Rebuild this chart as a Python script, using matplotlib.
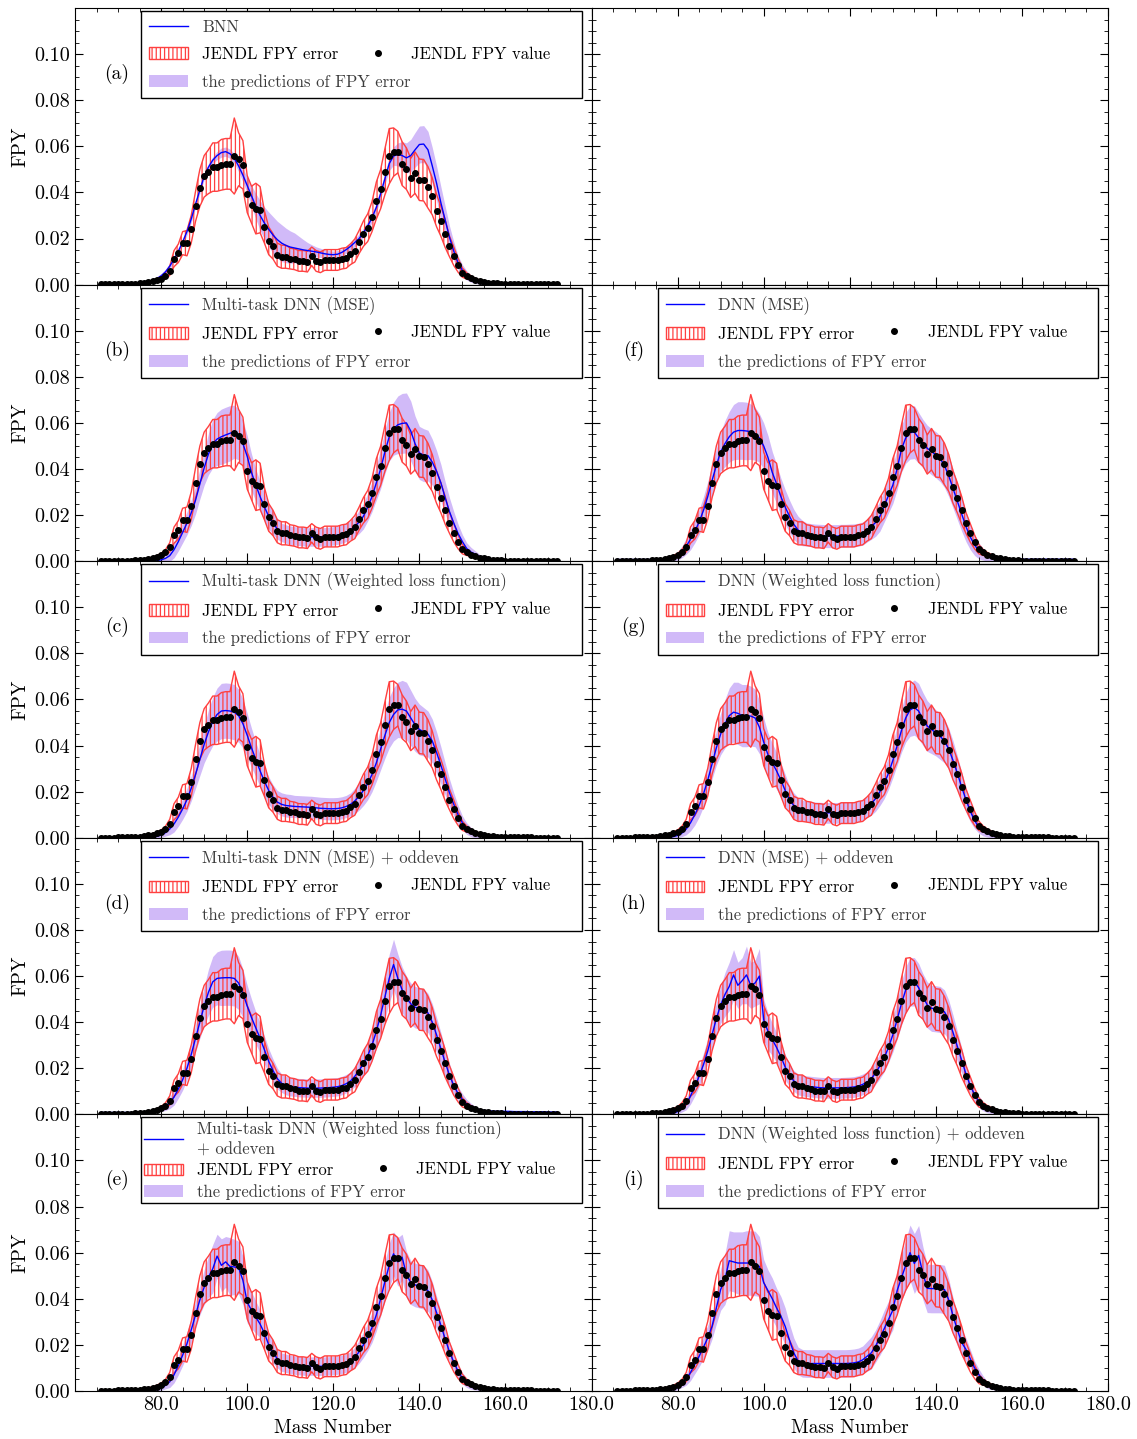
import numpy as np
import matplotlib.pyplot as plt
from matplotlib.lines import Line2D
from matplotlib.patches import Patch
from matplotlib.ticker import MultipleLocator, FormatStrFormatter

plt.rcParams['font.family'] = 'serif'
plt.rcParams['font.serif'] = ['cmr10']
plt.rcParams['mathtext.fontset'] = 'cm'
plt.rcParams['axes.formatter.use_mathtext'] = True
plt.rcParams['hatch.color'] = '#ff4040'
plt.rcParams['hatch.linewidth'] = 0.9

# mass numbers 66..172 (rows of the lists below: 66-69, 70-79, ..., 160-169, 170-172)
A = np.arange(66, 173)

# JENDL FPY value and error, in units of 1e-3
fpy = [0.1, 0.1, 0.1, 0.1,
       0.2, 0.2, 0.2, 0.3, 0.4, 0.5, 0.7, 1.0, 1.4, 1.9,
       2.6, 3.8, 6.0, 11.3, 13.6, 18.0, 18.0, 24.1, 34.0, 42.0,
       47.0, 49.0, 51.0, 51.0, 52.0, 52.4, 52.4, 55.8, 54.4, 52.0,
       39.3, 34.7, 33.0, 32.5, 25.0, 19.0, 16.6, 13.0, 12.1, 12.1,
       11.3, 11.0, 10.3, 10.3, 10.0, 12.3, 10.3, 9.7, 10.7, 10.7,
       10.7, 10.7, 11.3, 11.6, 13.2, 14.8, 18.5, 22.1, 24.7, 29.5,
       36.5, 41.4, 49.0, 55.7, 57.5, 57.5, 52.5, 50.3, 46.3, 48.6,
       45.5, 45.3, 42.2, 38.3, 32.1, 27.5, 22.1, 16.6, 12.3, 8.4,
       5.2, 3.8, 2.9, 2.2, 1.6, 1.2, 0.9, 0.7, 0.5, 0.4,
       0.3, 0.2, 0.2, 0.2, 0.2, 0.2, 0.2, 0.1, 0.1, 0.1,
       0.1, 0.1, 0.1]
fpy_err = [0.1, 0.1, 0.1, 0.1,
           0.1, 0.1, 0.1, 0.1, 0.1, 0.1, 0.2, 0.3, 0.4, 0.6,
           0.8, 1.2, 2.0, 3.5, 4.0, 5.0, 5.5, 6.0, 6.5, 8.0,
           9.0, 9.5, 10.5, 10.5, 11.0, 11.0, 11.0, 16.5, 11.5, 10.5,
           8.0, 8.0, 11.0, 10.0, 7.0, 6.0, 5.5, 5.0, 5.0, 5.0,
           4.5, 4.5, 4.5, 4.5, 4.5, 4.0, 4.5, 4.5, 4.5, 4.5,
           4.5, 4.5, 4.5, 4.5, 4.5, 5.0, 5.0, 5.5, 6.0, 6.5,
           8.0, 8.5, 10.0, 12.0, 10.5, 9.0, 9.5, 9.0, 8.5, 9.0,
           9.0, 9.0, 9.0, 8.0, 7.0, 6.5, 6.0, 4.5, 4.0, 3.0,
           2.0, 1.3, 0.9, 0.6, 0.4, 0.3, 0.2, 0.1, 0.1, 0.1,
           0.1, 0.1, 0.1, 0.1, 0.1, 0.1, 0.1, 0.1, 0.1, 0.1,
           0.1, 0.1, 0.1]

# model predictions (blue line) and predicted error half-width (purple band), 1e-3
pred_a = [0, 0, 0, 0,
          0, 0, 0, 0.1, 0.3, 0.5, 0.8, 1.2, 1.8, 2.6,
          3.8, 5.5, 8.0, 11.0, 14.5, 18.5, 23.0, 28.5, 35.0, 41.0,
          47.0, 51.0, 54.0, 56.0, 57.3, 57.7, 56.8, 54.8, 51.5, 47.5,
          43.0, 38.5, 34.0, 30.0, 26.7, 24.0, 21.5, 19.5, 18.0, 17.0,
          16.3, 15.9, 15.5, 15.1, 14.8, 14.5, 14.2, 13.8, 13.4, 13.1,
          13.0, 13.2, 14.0, 15.2, 16.6, 18.3, 20.0, 22.5, 25.5, 29.0,
          33.5, 39.5, 46.0, 52.5, 55.8, 56.5, 56.0, 55.0, 56.0, 58.5,
          60.8, 61.0, 58.5, 51.5, 44.0, 35.5, 28.0, 20.5, 14.5, 9.5,
          6.2, 4.0, 2.5, 1.5, 0.9, 0.5, 0.3, 0.2, 0.1, 0,
          0, 0, 0, 0, 0, 0, 0, 0, 0, 0,
          0, 0, 0]
wid_a = [0, 0, 0, 0,
         0, 0, 0, 0, 0.2, 0.3, 0.4, 0.5, 0.7, 0.9,
         1.0, 1.2, 1.3, 1.4, 1.5, 1.5, 1.5, 1.5, 1.5, 1.5,
         1.5, 1.5, 1.5, 1.8, 2.0, 2.0, 2.0, 2.0, 2.5, 3.0,
         3.5, 4.5, 5.5, 6.5, 7.0, 7.5, 8.0, 8.0, 8.0, 7.5,
         7.0, 6.5, 5.5, 4.5, 3.5, 2.8, 2.2, 2.0, 1.8, 1.7,
         1.6, 1.6, 1.6, 1.6, 1.7, 1.8, 2.0, 2.0, 2.0, 2.0,
         2.0, 2.2, 2.5, 3.0, 4.0, 5.0, 6.0, 6.5, 7.0, 7.5,
         8.0, 8.0, 8.0, 8.0, 7.5, 7.0, 6.0, 5.0, 4.0, 3.0,
         2.5, 2.0, 1.5, 1.0, 0.7, 0.5, 0.3, 0.2, 0, 0,
         0, 0, 0, 0, 0, 0, 0, 0, 0, 0,
         0, 0, 0]

pred_b = [0, 0, 0, 0,
          0, 0, 0, 0, 0, 0, 0, 0.1, 0.2, 0.3,
          0.6, 1.2, 2.4, 5.0, 8.5, 12.5, 16.5, 21.0, 26.5, 33.5,
          40.5, 46.5, 51.0, 53.0, 54.0, 54.8, 55.5, 56.2, 55.0, 51.0,
          45.5, 38.5, 33.0, 28.0, 23.5, 19.5, 16.5, 14.0, 12.5, 11.8,
          11.3, 11.0, 10.8, 10.6, 10.5, 10.5, 10.5, 10.5, 10.6, 10.8,
          11.0, 11.3, 11.8, 12.5, 13.5, 15.0, 17.0, 19.5, 23.5, 28.0,
          34.0, 40.0, 47.5, 54.0, 57.5, 59.2, 59.8, 60.0, 56.5, 51.0,
          47.0, 46.0, 45.8, 43.0, 39.0, 34.0, 27.5, 21.5, 16.5, 12.0,
          8.5, 5.5, 4.0, 3.0, 2.0, 1.2, 0.7, 0.4, 0.2, 0.1,
          0, 0, 0, 0, 0, 0, 0, 0, 0, 0,
          0, 0, 0]
wid_b = [0, 0, 0, 0,
         0, 0, 0, 0, 0, 0, 0.2, 0.3, 0.5, 0.7,
         1.0, 1.5, 2.5, 3.5, 4.0, 4.5, 5.0, 5.5, 6.0, 6.5,
         7.5, 9.0, 10.5, 11.5, 12.0, 12.0, 12.0, 11.5, 11.0, 10.0,
         9.0, 8.0, 7.0, 6.5, 6.0, 5.5, 5.0, 4.5, 4.0, 4.0,
         4.0, 4.0, 4.0, 4.0, 4.0, 4.0, 4.0, 4.0, 4.0, 4.0,
         4.0, 4.0, 4.0, 4.0, 4.0, 4.5, 5.0, 5.5, 6.0, 6.5,
         7.5, 8.5, 9.5, 10.5, 11.5, 12.5, 13.0, 13.0, 13.0, 12.0,
         11.5, 11.5, 11.0, 10.0, 9.0, 8.0, 7.0, 6.0, 5.0, 4.0,
         3.0, 2.5, 2.0, 1.5, 1.0, 0.7, 0.5, 0.3, 0.2, 0,
         0, 0, 0, 0, 0, 0, 0, 0, 0, 0,
         0, 0, 0]

pred_c = [0, 0, 0, 0,
          0, 0, 0, 0, 0, 0, 0, 0.1, 0.3, 0.6,
          1.2, 2.2, 3.8, 6.0, 9.0, 12.5, 16.5, 21.5, 27.5, 34.0,
          40.5, 46.0, 50.5, 53.5, 55.0, 55.2, 55.0, 54.5, 53.0, 49.5,
          44.5, 39.0, 34.0, 29.0, 24.5, 20.5, 17.5, 15.5, 14.5, 14.0,
          13.8, 13.6, 13.5, 13.4, 13.3, 13.2, 13.0, 12.8, 12.7, 12.6,
          12.6, 12.7, 13.0, 13.6, 14.5, 16.0, 18.0, 20.5, 23.5, 27.5,
          32.5, 38.5, 44.5, 50.0, 53.5, 55.5, 55.8, 55.0, 52.0, 49.0,
          47.0, 46.0, 45.0, 42.0, 37.0, 31.5, 25.5, 19.5, 14.5, 10.0,
          6.5, 4.0, 2.5, 1.5, 0.9, 0.5, 0.3, 0.2, 0.1, 0,
          0, 0, 0, 0, 0, 0, 0, 0, 0, 0,
          0, 0, 0]
wid_c = [0, 0, 0, 0,
         0, 0, 0, 0, 0, 0, 0.2, 0.3, 0.5, 0.7,
         1.0, 1.5, 2.5, 3.5, 4.0, 4.5, 5.0, 5.5, 6.0, 7.0,
         8.0, 9.5, 10.5, 11.5, 12.0, 12.0, 12.0, 12.0, 11.5, 10.5,
         9.5, 8.5, 7.5, 7.0, 6.5, 6.0, 5.5, 5.0, 5.0, 5.0,
         5.0, 4.8, 4.8, 4.8, 4.8, 4.8, 4.8, 4.8, 4.8, 4.8,
         4.8, 4.8, 4.8, 4.8, 5.0, 5.5, 6.0, 6.5, 7.0, 7.5,
         8.0, 9.0, 10.0, 11.0, 11.5, 12.0, 12.5, 12.5, 12.0, 11.5,
         11.0, 10.5, 10.0, 9.5, 9.0, 8.0, 7.0, 6.0, 5.0, 4.0,
         3.0, 2.5, 2.0, 1.5, 1.0, 0.7, 0.5, 0.3, 0.2, 0,
         0, 0, 0, 0, 0, 0, 0, 0, 0, 0,
         0, 0, 0]

pred_d = [0.8, 0.8, 0.8, 0.8,
          0.8, 0.8, 0.8, 0.8, 0.8, 0.9, 1.0, 1.1, 1.3, 1.6,
          2.2, 3.2, 5.0, 7.5, 11.0, 15.0, 20.0, 26.0, 33.0, 40.0,
          47.0, 53.0, 57.5, 59.0, 59.2, 59.3, 59.3, 59.0, 57.0, 52.5,
          47.0, 42.0, 37.5, 33.0, 28.0, 23.0, 19.0, 15.5, 13.5, 12.5,
          12.0, 11.8, 11.6, 11.5, 11.4, 11.4, 11.4, 11.4, 11.5, 11.6,
          11.8, 12.0, 12.5, 13.3, 14.5, 16.5, 19.0, 22.0, 25.5, 30.0,
          36.0, 43.0, 51.0, 59.0, 65.0, 59.0, 54.0, 50.5, 48.0, 46.5,
          46.0, 45.5, 44.0, 40.0, 34.5, 28.5, 22.5, 17.0, 12.5, 9.0,
          6.5, 4.5, 3.3, 2.5, 2.0, 1.7, 1.5, 1.4, 1.3, 1.3,
          1.3, 1.3, 1.2, 1.2, 1.2, 1.2, 1.1, 1.1, 1.1, 1.1,
          1.0, 1.0, 1.0]
wid_d = [0.3, 0.3, 0.3, 0.3,
         0.3, 0.3, 0.3, 0.3, 0.3, 0.3, 0.4, 0.5, 0.6, 0.8,
         1.0, 1.5, 2.5, 3.5, 4.0, 4.5, 5.0, 5.5, 6.0, 7.0,
         8.5, 10.0, 11.0, 11.5, 12.0, 12.0, 12.0, 12.0, 11.5, 10.5,
         9.0, 8.0, 7.0, 6.5, 6.0, 5.5, 5.0, 4.5, 4.0, 4.0,
         4.0, 4.0, 4.0, 4.0, 4.0, 4.0, 4.0, 4.0, 4.0, 4.0,
         4.0, 4.0, 4.0, 4.0, 4.0, 4.5, 5.0, 5.5, 6.0, 6.5,
         7.5, 8.5, 9.5, 10.5, 11.0, 10.5, 10.0, 9.5, 9.0, 9.0,
         9.0, 9.0, 8.5, 8.0, 7.5, 7.0, 6.0, 5.0, 4.0, 3.0,
         2.5, 2.0, 1.5, 1.0, 0.7, 0.5, 0.4, 0.4, 0.4, 0.4,
         0.4, 0.4, 0.4, 0.4, 0.4, 0.4, 0.4, 0.4, 0.4, 0.4,
         0.4, 0.4, 0.4]

pred_e = [0, 0, 0, 0,
          0, 0, 0, 0, 0, 0, 0, 0.1, 0.3, 0.6,
          1.2, 2.4, 4.0, 7.0, 11.0, 15.5, 20.5, 26.5, 33.0, 39.5,
          45.0, 49.5, 53.0, 58.5, 54.5, 56.0, 54.0, 53.8, 53.5, 48.0,
          38.5, 35.0, 32.0, 29.0, 25.0, 20.0, 16.5, 14.0, 12.5, 12.0,
          11.5, 11.2, 11.0, 10.8, 10.7, 10.8, 10.7, 10.7, 10.8, 10.9,
          11.0, 11.2, 11.5, 12.0, 13.0, 14.5, 17.0, 20.0, 23.5, 27.5,
          33.0, 40.0, 47.5, 54.5, 59.5, 56.0, 58.0, 50.5, 47.0, 46.0,
          45.5, 45.0, 43.5, 39.5, 34.0, 28.5, 22.5, 17.0, 12.5, 8.5,
          5.5, 3.5, 2.2, 1.4, 0.9, 0.6, 0.4, 0.3, 0.2, 0.1,
          0, 0, 0, 0, 0, 0, 0, 0, 0, 0,
          0, 0, 0]
wid_e = [0, 0, 0, 0,
         0, 0, 0, 0, 0, 0, 0.2, 0.3, 0.5, 0.7,
         1.0, 1.5, 2.5, 3.5, 4.0, 4.5, 5.0, 5.5, 6.0, 6.5,
         7.5, 9.0, 10.5, 9.5, 11.5, 11.0, 12.5, 12.0, 11.5, 10.5,
         9.0, 8.0, 7.0, 6.0, 5.5, 5.0, 4.5, 4.0, 4.0, 4.0,
         4.0, 4.0, 4.0, 4.0, 4.0, 4.0, 4.0, 4.0, 4.0, 4.0,
         4.0, 4.0, 4.0, 4.0, 4.0, 4.5, 5.0, 5.5, 6.0, 6.5,
         7.0, 7.5, 8.5, 9.5, 9.5, 10.5, 10.0, 10.0, 9.5, 9.5,
         9.5, 9.5, 9.0, 8.0, 7.0, 6.0, 5.0, 4.5, 3.5, 3.0,
         2.5, 2.0, 1.5, 1.0, 0.7, 0.5, 0.3, 0.2, 0, 0,
         0, 0, 0, 0, 0, 0, 0, 0, 0, 0,
         0, 0, 0]

pred_f = [0.7, 0.7, 0.7, 0.7,
          0.7, 0.7, 0.7, 0.7, 0.7, 0.7, 0.7, 0.8, 1.0, 1.5,
          2.2, 4.0, 6.5, 9.5, 13.0, 17.0, 22.0, 28.0, 35.0, 41.5,
          47.5, 51.0, 54.0, 56.0, 56.7, 56.7, 56.5, 56.2, 55.3, 53.5,
          50.0, 45.0, 38.5, 33.5, 28.0, 23.5, 19.5, 16.0, 13.5, 12.2,
          11.6, 11.3, 11.1, 11.0, 10.9, 10.9, 10.9, 10.9, 11.0, 11.0,
          11.1, 11.2, 11.5, 12.0, 13.3, 15.0, 16.8, 19.5, 24.0, 28.5,
          33.0, 40.0, 48.5, 53.5, 55.8, 56.0, 53.5, 51.0, 49.0, 47.5,
          46.2, 44.5, 41.5, 37.0, 31.5, 26.0, 20.5, 15.0, 10.5, 7.0,
          4.5, 3.0, 2.0, 1.4, 1.1, 0.9, 0.8, 0.8, 0.8, 0.8,
          0.8, 0.8, 0.8, 0.8, 0.8, 0.8, 0.8, 0.8, 0.8, 0.8,
          0.8, 0.8, 0.8]
wid_f = [0.6, 0.6, 0.6, 0.6,
         0.6, 0.6, 0.6, 0.6, 0.6, 0.6, 0.6, 0.6, 0.8, 1.2,
         1.8, 2.5, 3.5, 4.5, 5.0, 5.5, 6.0, 6.5, 7.0, 7.5,
         8.5, 10.0, 11.0, 12.0, 12.5, 12.5, 12.5, 12.0, 11.5, 10.5,
         10.0, 9.5, 9.0, 8.5, 8.0, 7.5, 7.0, 6.5, 6.0, 5.5,
         5.0, 5.0, 5.0, 5.0, 5.0, 5.0, 5.0, 5.0, 5.0, 5.0,
         5.0, 5.0, 5.0, 5.0, 5.0, 5.5, 6.0, 6.5, 7.0, 7.5,
         8.0, 9.0, 10.0, 11.0, 11.5, 11.5, 11.0, 10.5, 10.0, 10.0,
         10.0, 10.0, 9.5, 9.0, 8.5, 8.0, 7.5, 6.5, 5.5, 4.5,
         3.5, 2.5, 2.0, 1.5, 1.2, 0.8, 0.7, 0.6, 0.6, 0.6,
         0.6, 0.6, 0.6, 0.6, 0.6, 0.6, 0.6, 0.6, 0.6, 0.6,
         0.6, 0.6, 0.6]

pred_g = [0, 0, 0, 0,
          0, 0, 0, 0, 0, 0, 0, 0.1, 0.3, 0.5,
          1.0, 2.0, 3.8, 6.5, 10.0, 14.0, 19.0, 25.0, 32.0, 39.0,
          45.0, 49.5, 53.0, 54.5, 54.0, 53.0, 53.0, 52.8, 52.0, 48.0,
          41.5, 36.0, 32.5, 29.0, 25.0, 20.5, 16.5, 14.0, 12.5, 11.8,
          11.5, 11.2, 11.0, 10.9, 10.8, 10.8, 10.8, 10.8, 10.9, 11.0,
          11.0, 11.2, 11.5, 12.2, 13.2, 14.8, 17.0, 20.0, 23.5, 28.0,
          33.5, 40.0, 46.5, 52.0, 55.5, 56.5, 55.0, 51.5, 48.5, 47.0,
          45.5, 44.0, 42.0, 38.5, 33.5, 28.0, 22.0, 16.5, 11.5, 7.5,
          4.5, 2.8, 1.8, 1.1, 0.7, 0.4, 0.3, 0.2, 0.1, 0,
          0, 0, 0, 0, 0, 0, 0, 0, 0, 0,
          0, 0, 0]
wid_g = [0, 0, 0, 0,
         0, 0, 0, 0, 0, 0, 0.2, 0.3, 0.5, 0.7,
         1.0, 1.5, 2.5, 3.5, 4.5, 5.0, 5.5, 6.0, 6.5, 7.5,
         9.0, 10.5, 12.0, 13.0, 13.5, 13.5, 13.5, 13.0, 12.5, 11.5,
         10.5, 9.5, 8.5, 8.0, 7.5, 7.0, 6.0, 5.5, 5.0, 4.5,
         4.5, 4.5, 4.5, 4.5, 4.5, 4.5, 4.5, 4.5, 4.5, 4.5,
         4.5, 4.5, 4.5, 4.5, 4.5, 5.0, 5.5, 6.0, 6.5, 7.0,
         7.5, 8.5, 9.5, 10.5, 11.5, 12.0, 12.0, 11.5, 11.0, 10.5,
         10.0, 10.0, 9.5, 9.0, 8.5, 7.5, 6.5, 5.5, 4.5, 3.5,
         2.5, 2.0, 1.5, 1.0, 0.7, 0.5, 0.3, 0.2, 0, 0,
         0, 0, 0, 0, 0, 0, 0, 0, 0, 0,
         0, 0, 0]

pred_h = [0, 0, 0, 0,
          0, 0, 0, 0, 0, 0, 0, 0.1, 0.2, 0.5,
          1.2, 2.5, 4.5, 8.0, 12.0, 16.5, 21.5, 27.5, 34.5, 41.5,
          47.5, 52.0, 55.5, 60.5, 56.0, 58.0, 60.5, 56.0, 57.0, 60.0,
          41.0, 36.0, 32.5, 29.0, 25.0, 20.5, 17.0, 14.5, 13.0, 12.5,
          12.2, 12.0, 11.8, 11.6, 11.5, 11.5, 11.5, 11.5, 11.5, 11.6,
          11.7, 11.9, 12.3, 13.0, 14.0, 15.5, 18.0, 21.0, 24.5, 29.0,
          34.5, 41.0, 48.0, 54.0, 57.5, 57.5, 55.0, 51.0, 47.5, 46.0,
          45.8, 45.5, 44.5, 41.0, 35.5, 29.5, 23.5, 17.5, 12.5, 8.5,
          5.5, 3.5, 2.2, 1.4, 0.9, 0.6, 0.4, 0.3, 0.2, 0.1,
          0, 0, 0, 0, 0, 0, 0, 0, 0, 0,
          0, 0, 0]
wid_h = [0, 0, 0, 0,
         0, 0, 0, 0, 0, 0, 0.2, 0.3, 0.5, 0.7,
         1.0, 1.5, 2.5, 3.5, 4.0, 4.5, 5.0, 5.5, 6.0, 7.0,
         8.0, 9.5, 10.5, 11.0, 10.0, 10.0, 12.5, 10.0, 10.0, 12.0,
         9.0, 8.0, 7.0, 6.5, 6.0, 5.5, 5.0, 4.5, 4.5, 4.5,
         4.5, 4.5, 4.5, 4.5, 4.5, 4.5, 4.5, 4.5, 4.5, 4.5,
         4.5, 4.5, 4.5, 4.5, 4.5, 5.0, 5.0, 5.5, 6.0, 6.5,
         7.5, 8.5, 9.5, 10.0, 10.5, 10.5, 10.5, 10.0, 10.0, 10.0,
         10.0, 10.0, 9.5, 8.5, 7.5, 6.5, 5.5, 4.5, 3.5, 3.0,
         2.5, 2.0, 1.5, 1.0, 0.7, 0.5, 0.3, 0.2, 0, 0,
         0, 0, 0, 0, 0, 0, 0, 0, 0, 0,
         0, 0, 0]

pred_i = [0, 0, 0, 0,
          0, 0, 0, 0, 0, 0, 0, 0.1, 0.3, 0.7,
          1.5, 3.0, 5.0, 8.0, 11.5, 15.0, 19.0, 23.0, 28.0, 36.0,
          44.0, 48.5, 56.5, 56.0, 55.5, 55.5, 55.5, 55.5, 55.3, 54.0,
          47.0, 43.5, 40.0, 36.0, 32.5, 28.0, 22.0, 16.5, 13.0, 12.0,
          11.9, 11.9, 11.9, 11.9, 11.9, 11.9, 11.9, 11.9, 11.9, 11.9,
          12.0, 12.2, 12.6, 13.5, 15.0, 16.5, 19.5, 23.0, 27.0, 31.0,
          35.0, 43.5, 49.0, 54.5, 60.0, 55.3, 58.8, 51.0, 44.5, 44.4,
          44.4, 44.4, 44.0, 39.5, 32.5, 26.5, 21.0, 18.0, 14.0, 10.0,
          7.0, 4.5, 2.5, 1.6, 1.0, 0.6, 0.4, 0.3, 0.2, 0.1,
          0, 0, 0, 0, 0, 0, 0, 0, 0, 0,
          0, 0, 0]
wid_i = [0, 0, 0, 0,
         0, 0, 0, 0, 0, 0, 0.2, 0.3, 0.5, 0.8,
         1.0, 1.5, 2.5, 3.5, 4.0, 4.5, 5.0, 5.5, 5.5, 7.0,
         9.0, 11.0, 13.0, 13.0, 13.5, 13.5, 14.0, 14.0, 14.0, 13.0,
         10.0, 9.0, 9.0, 8.5, 8.5, 8.0, 7.0, 6.5, 6.0, 6.0,
         6.0, 6.0, 6.0, 6.0, 6.0, 6.0, 6.0, 6.0, 6.0, 6.0,
         6.0, 6.0, 6.0, 6.0, 6.5, 7.0, 7.0, 7.5, 8.0, 8.0,
         8.5, 9.0, 10.0, 11.0, 12.0, 13.0, 13.0, 11.5, 10.5, 10.5,
         10.5, 10.5, 10.5, 9.0, 8.0, 7.0, 6.0, 5.0, 4.0, 3.0,
         2.5, 2.0, 1.5, 1.0, 0.7, 0.5, 0.3, 0.2, 0, 0,
         0, 0, 0, 0, 0, 0, 0, 0, 0, 0,
         0, 0, 0]

names = {
    'a': 'BNN',
    'b': 'Multi-task DNN (MSE)',
    'c': 'Multi-task DNN (Weighted loss function)',
    'd': 'Multi-task DNN (MSE) + oddeven',
    'e': 'Multi-task DNN (Weighted loss function)\n+ oddeven',
    'f': 'DNN (MSE)',
    'g': 'DNN (Weighted loss function)',
    'h': 'DNN (MSE) + oddeven',
    'i': 'DNN (Weighted loss function) + oddeven',
}
preds = {'a': pred_a, 'b': pred_b, 'c': pred_c, 'd': pred_d, 'e': pred_e,
         'f': pred_f, 'g': pred_g, 'h': pred_h, 'i': pred_i}
wids = {'a': wid_a, 'b': wid_b, 'c': wid_c, 'd': wid_d, 'e': wid_e,
        'f': wid_f, 'g': wid_g, 'h': wid_h, 'i': wid_i}

fpy = np.array(fpy) * 1e-3
fpy_err = np.array(fpy_err) * 1e-3

purple = '#9a66f0'
red = '#ff4040'


def draw(ax, key):
    p = np.array(preds[key]) * 1e-3
    w = np.array(wids[key]) * 1e-3
    ax.fill_between(A, p - w, p + w, color=purple, alpha=0.45, lw=0, zorder=1)
    ax.fill_between(A, fpy - fpy_err, fpy + fpy_err, facecolor='none',
                    edgecolor=red, hatch='||||', lw=1, zorder=2)
    ax.plot(A, p, color='b', lw=1, zorder=3)
    ax.plot(A, fpy, 'o', color='k', ms=4, zorder=4)
    ax.text(0.081, 0.762, '(%s)' % key, transform=ax.transAxes, fontsize=14,
            ha='center', va='center')

    blank = Line2D([], [], lw=0)
    handles = [Line2D([], [], color='b', lw=1),
               Patch(facecolor='none', edgecolor=red, hatch='||||', lw=1),
               Patch(facecolor=purple, alpha=0.45, lw=0),
               blank,
               Line2D([], [], color='k', marker='o', ls='', ms=4),
               blank]
    two_line = '\n' in names[key]
    # last (invisible) label only widens the second column
    labels = [names[key], 'JENDL FPY error', 'the predictions of FPY error',
              '\n' if two_line else '', 'JENDL FPY value', 'JENDL FPY value xx']
    leg = ax.legend(handles, labels, ncol=2, loc='upper left',
                    bbox_to_anchor=(0.128, 0.5, 0.853, 0.489), mode='expand',
                    borderaxespad=0, fontsize=12, fancybox=False,
                    edgecolor='k', framealpha=1, handlelength=2.3,
                    handletextpad=0.85,
                    labelspacing=0.35 if two_line else 0.72,
                    borderpad=0.2 if two_line else 0.5)
    leg.get_frame().set_linewidth(1.0)
    texts = leg.get_texts()
    texts[0].set_color('#3c3c3c')
    texts[2].set_color('#3c3c3c')
    texts[5].set_color('none')


fig, axes = plt.subplots(5, 2, figsize=(11.37, 14.39), dpi=100,
                         sharex=True, sharey=True)
fig.subplots_adjust(left=0.066, right=0.9745, top=0.9944, bottom=0.0334,
                    hspace=0, wspace=0)

layout = [['a', None], ['b', 'f'], ['c', 'g'], ['d', 'h'], ['e', 'i']]
for r in range(5):
    for c in range(2):
        ax = axes[r, c]
        key = layout[r][c]
        if key is not None:
            draw(ax, key)
        ax.set_xlim(60, 180)
        ax.set_ylim(0, 0.12)
        ax.set_xticks([80, 100, 120, 140, 160, 180])
        ax.set_yticks([0, 0.02, 0.04, 0.06, 0.08, 0.10])
        ax.xaxis.set_minor_locator(MultipleLocator(5))
        ax.yaxis.set_minor_locator(MultipleLocator(0.005))
        ax.xaxis.set_major_formatter(FormatStrFormatter('%.1f'))
        ax.yaxis.set_major_formatter(FormatStrFormatter('%.2f'))
        ax.tick_params(which='both', direction='in', top=True, right=True,
                       labelsize=14.5)
        ax.tick_params(which='major', length=6)
        ax.tick_params(which='minor', length=3)
        if c == 0:
            ax.set_ylabel('FPY', fontsize=14, labelpad=4)
        if r == 4:
            ax.set_xlabel('Mass Number', fontsize=14, labelpad=4)

fig.savefig('out.png', dpi=100)
